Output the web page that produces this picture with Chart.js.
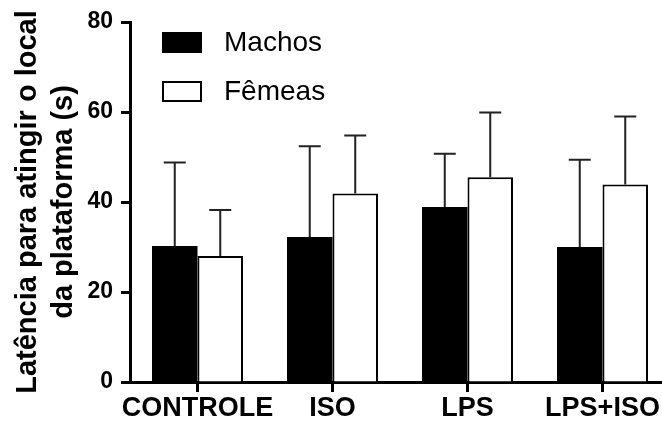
<!DOCTYPE html>
<html lang="pt">
<head>
<meta charset="utf-8">
<title>Latência para atingir o local da plataforma</title>
<script src="https://cdn.jsdelivr.net/npm/chart.js@4"></script>
<style>
  html, body { margin: 0; padding: 0; background: #fff; overflow: hidden; }
  #wrap { position: relative; width: 670px; height: 421px; }
</style>
</head>
<body>
<div id="wrap"><canvas id="latencyChart"></canvas></div>
<script>
// Latência média (s) e erro (só para cima) por grupo
const grupos = ['CONTROLE', 'ISO', 'LPS', 'LPS+ISO'];
const machos = [30.2, 32.2, 38.9, 30.0];
const machosErro = [18.6, 20.2, 11.8, 19.4];
const femeas = [28.0, 41.9, 45.5, 43.9];
const femeasErro = [10.2, 12.9, 14.4, 15.1];
const yTicks = [0, 20, 40, 60, 80];

const FONT = "'Liberation Sans', Arial, sans-serif";

// whiskers drawn from the top of each bar
const errorBars = {
    id: 'errorBars',
    afterDatasetsDraw(chart, args, opts) {
        const ctx = chart.ctx;
        const y = chart.scales.y;
        ctx.save();
        ctx.strokeStyle = opts.color;
        ctx.lineWidth = opts.width;
        chart.data.datasets.forEach((ds, i) => {
            chart.getDatasetMeta(i).data.forEach((bar, j) => {
                const top = y.getPixelForValue(ds.data[j] + ds.errors[j]);
                ctx.beginPath();
                ctx.moveTo(bar.x, bar.y);
                ctx.lineTo(bar.x, top);
                ctx.moveTo(bar.x - opts.cap / 2, top);
                ctx.lineTo(bar.x + opts.cap / 2, top);
                ctx.stroke();
            });
        });
        ctx.restore();
    }
};

// legend boxes sitting inside the plot, top left
const boxLegend = {
    id: 'boxLegend',
    afterDraw(chart, args, opts) {
        const ctx = chart.ctx;
        const area = chart.chartArea;
        ctx.save();
        ctx.font = opts.font;
        ctx.textBaseline = 'middle';
        chart.data.datasets.forEach((ds, i) => {
            const x = area.left + opts.x;
            const y = area.top + opts.y + i * opts.rowGap;
            ctx.fillStyle = ds.backgroundColor;
            ctx.fillRect(x, y, opts.boxW, opts.boxH);
            ctx.lineWidth = 2;
            ctx.strokeStyle = '#000';
            ctx.strokeRect(x + 1, y + 1, opts.boxW - 2, opts.boxH - 2);
            ctx.fillStyle = '#000';
            ctx.fillText(ds.label, x + opts.boxW + opts.gap, y + opts.boxH / 2 + 1);
        });
        ctx.restore();
    }
};

const ctx = document.getElementById('latencyChart').getContext('2d');
const latencyChart = new Chart(ctx, {
    type: 'bar',
    data: {
        labels: grupos,
        datasets: [{
            label: 'Machos',
            data: machos,
            errors: machosErro,
            backgroundColor: '#000',
            borderColor: '#000',
            borderWidth: 0
        }, {
            label: 'Fêmeas',
            data: femeas,
            errors: femeasErro,
            backgroundColor: '#fff',
            borderColor: '#000',
            borderWidth: 2
        }]
    },
    plugins: [errorBars, boxLegend],
    options: {
        responsive: true,
        maintainAspectRatio: false,
        animation: false,
        categoryPercentage: 0.674,
        barPercentage: 1.0,
        layout: {
            padding: { top: 22, left: 0, right: 0, bottom: 0 }
        },
        plugins: {
            legend: { display: false },
            tooltip: { enabled: false },
            errorBars: { color: '#222', width: 2, cap: 22 },
            boxLegend: {
                font: '28px ' + FONT,
                x: 32, y: 10, rowGap: 49,
                boxW: 40, boxH: 21, gap: 22
            }
        },
        scales: {
            x: {
                afterFit: scale => { scale.height = 39; },
                border: { display: true, width: 3, color: '#000' },
                grid: {
                    offset: false,
                    drawOnChartArea: false,
                    drawTicks: true,
                    tickLength: 10,
                    tickWidth: 3,
                    tickColor: '#000'
                },
                ticks: {
                    autoSkip: false,
                    maxRotation: 0,
                    minRotation: 0,
                    padding: 0,
                    color: '#000',
                    font: { family: FONT, size: 27, weight: 'bold' }
                }
            },
            y: {
                min: 0,
                max: 80,
                afterFit: scale => { scale.width = 130; },
                afterBuildTicks: scale => {
                    scale.ticks = yTicks.map(v => ({ value: v }));
                },
                border: { display: true, width: 3, color: '#000' },
                grid: {
                    drawOnChartArea: false,
                    drawTicks: true,
                    tickLength: 9,
                    tickWidth: 3,
                    tickColor: '#000'
                },
                ticks: {
                    padding: 8,
                    color: '#000',
                    font: { family: FONT, size: 23, weight: 'bold' }
                },
                title: {
                    display: true,
                    text: ['Latência para atingir o local', 'da plataforma (s)'],
                    color: '#000',
                    padding: { top: 10, bottom: 0 },
                    font: { family: FONT, size: 29, weight: 'bold', lineHeight: 1.25 }
                }
            }
        }
    }
});
</script>
</body>
</html>
